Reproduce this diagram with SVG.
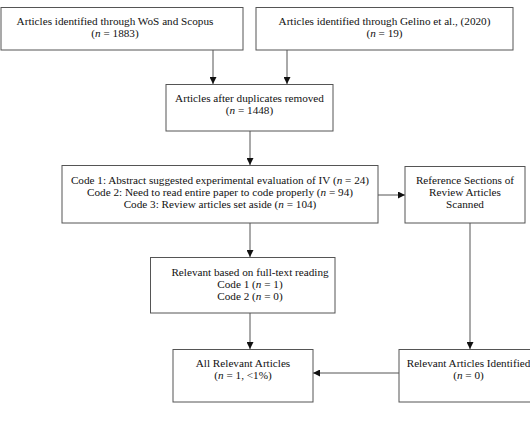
<svg xmlns="http://www.w3.org/2000/svg" width="530" height="430" viewBox="0 0 530 430">
<defs>
<style>
.box{fill:#fff;stroke:#555;stroke-width:1}
.t{font-family:"Liberation Serif","Times New Roman",serif;font-size:11.2px;fill:#111;text-anchor:middle}
.c{fill:none;stroke:#555;stroke-width:1}
</style>
<marker id="ah" viewBox="0 0 10 10" refX="10" refY="5" markerWidth="7" markerHeight="7" markerUnits="userSpaceOnUse" orient="auto">
<path d="M0,0 L10,5 L0,10 z" fill="#111"/>
</marker>
</defs>
<rect width="530" height="430" fill="#fff"/>
<g id="connectors">
<line class="c" x1="213" y1="50" x2="213" y2="84" marker-end="url(#ah)"/>
<line class="c" x1="287" y1="50" x2="287" y2="84" marker-end="url(#ah)"/>
<line class="c" x1="250" y1="131" x2="250" y2="165" marker-end="url(#ah)"/>
<line class="c" x1="378" y1="195" x2="405" y2="195" marker-end="url(#ah)"/>
<line class="c" x1="250" y1="223" x2="250" y2="257" marker-end="url(#ah)"/>
<line class="c" x1="250" y1="313" x2="250" y2="349" marker-end="url(#ah)"/>
<line class="c" x1="470" y1="223" x2="470" y2="349" marker-end="url(#ah)"/>
<line class="c" x1="399" y1="373" x2="313" y2="373" marker-end="url(#ah)"/>
</g>
<g id="n1">
<rect class="box" x="1" y="7.5" width="242" height="42.5"/>
<text class="t" x="115" y="25">Articles identified through WoS and Scopus</text>
<text class="t" x="115" y="37">(<tspan font-style="italic">n</tspan> = 1883)</text>
</g>
<g id="n2">
<rect class="box" x="256" y="7.5" width="257" height="42.5"/>
<text class="t" x="384.5" y="25">Articles identified through Gelino et al., (2020)</text>
<text class="t" x="384.5" y="37">(<tspan font-style="italic">n</tspan> = 19)</text>
</g>
<g id="n3">
<rect class="box" x="166" y="84.5" width="167" height="46.5"/>
<text class="t" x="249.5" y="101.5">Articles after duplicates removed</text>
<text class="t" x="249.5" y="113.5">(<tspan font-style="italic">n</tspan> = 1448)</text>
</g>
<g id="n4">
<rect class="box" x="62" y="165.5" width="316" height="57.5"/>
<text class="t" x="220" y="183.5">Code 1: Abstract suggested experimental evaluation of IV (<tspan font-style="italic">n</tspan> = 24)</text>
<text class="t" x="220" y="195.5">Code 2: Need to read entire paper to code properly (<tspan font-style="italic">n</tspan> = 94)</text>
<text class="t" x="220" y="207.5">Code 3: Review articles set aside (<tspan font-style="italic">n</tspan> = 104)</text>
</g>
<g id="n5">
<rect class="box" x="405" y="166.5" width="120" height="56.5"/>
<text class="t" x="465" y="183.5">Reference Sections of</text>
<text class="t" x="465" y="195.5">Review Articles</text>
<text class="t" x="465" y="207.5">Scanned</text>
</g>
<g id="n6">
<rect class="box" x="150.5" y="257.5" width="184.5" height="55.5"/>
<text class="t" x="250" y="276">Relevant based on full-text reading</text>
<text class="t" x="250" y="288">Code 1 (<tspan font-style="italic">n</tspan> = 1)</text>
<text class="t" x="250" y="300">Code 2 (<tspan font-style="italic">n</tspan> = 0)</text>
</g>
<g id="n7">
<rect class="box" x="173" y="349.5" width="140" height="52.5"/>
<text class="t" x="243" y="367">All Relevant Articles</text>
<text class="t" x="243" y="379">(<tspan font-style="italic">n</tspan> = 1, &lt;1%)</text>
</g>
<g id="n8">
<rect class="box" x="399" y="349.5" width="141" height="52.5"/>
<text class="t" x="468.5" y="367">Relevant Articles Identified</text>
<text class="t" x="468.5" y="379">(<tspan font-style="italic">n</tspan> = 0)</text>
</g>
</svg>
